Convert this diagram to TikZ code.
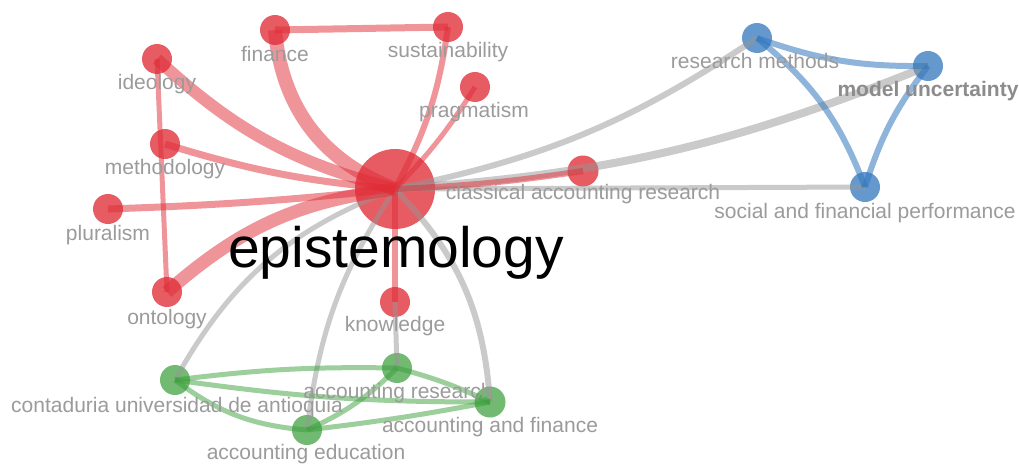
\documentclass[tikz,border=0pt]{standalone}
\usepackage{fontspec}
\setmainfont{Liberation Sans}
\definecolor{vred}{RGB}{225,45,55}
\definecolor{vgreen}{RGB}{60,160,60}
\definecolor{vblue}{RGB}{50,120,190}
\definecolor{vgray}{RGB}{150,150,150}
\definecolor{labgray}{RGB}{155,155,155}
\newcommand{\labfont}{\fontsize{21}{24}\selectfont}
\begin{document}
\begin{tikzpicture}[x=1pt,y=-1pt,
  dot/.style={circle, inner sep=0pt, minimum size=#1},
  rdot/.style={dot=#1, fill=vred, fill opacity=0.78},
  gdot/.style={dot=#1, fill=vgreen, fill opacity=0.72},
  bdot/.style={dot=#1, fill=vblue, fill opacity=0.75},
  redge/.style={draw=vred, draw opacity=0.5, line width=#1},
  gredge/.style={draw=vgray, draw opacity=0.5, line width=#1},
  grnedge/.style={draw=vgreen, draw opacity=0.5, line width=#1},
  bedge/.style={draw=vblue, draw opacity=0.55, line width=#1},
  lab/.style={anchor=base, text=labgray, font=\labfont, inner sep=0pt},
]
\useasboundingbox (0,0) rectangle (1019,463);
\fill[white] (0,0) rectangle (1019,463);

% nodes (circles)
\node[rdot=80] (epi) at (395,189) {};
\node[rdot=30] (fin) at (275,30) {};
\node[rdot=30] (sust) at (448,27) {};
\node[rdot=30] (ideo) at (157,59) {};
\node[rdot=30] (prag) at (475,87) {};
\node[rdot=30] (meth) at (165,144) {};
\node[rdot=30] (plur) at (108,209) {};
\node[rdot=30] (onto) at (167,292) {};
\node[rdot=30] (know) at (395,302) {};
\node[rdot=31] (class) at (583,171) {};
\node[bdot=30] (resm) at (757,38) {};
\node[bdot=30] (model) at (928,66) {};
\node[bdot=30] (social) at (865,187) {};
\node[gdot=30] (cont) at (175,380) {};
\node[gdot=30] (accres) at (397,368) {};
\node[gdot=30] (acced) at (307,430) {};
\node[gdot=31] (accfin) at (490,402) {};

% gray edges
\draw[gredge=6] (epi.center) to[bend right=11] (resm.center);
\draw[gredge=8] (epi.center) to[bend right=9] (model.center);
\draw[gredge=5] (epi.center) -- (social.center);
\draw[gredge=5] (epi.center) to[bend right=20] (cont.center);
\draw[gredge=5] (epi.center) to[bend right=13] (acced.center);
\draw[gredge=6] (epi.center) to[bend left=20] (accfin.center);
\draw[gredge=5] (know.center) -- (accres.center);

% red edges
\draw[redge=14] (epi.center) to[bend left=32] (fin.center);
\draw[redge=12] (epi.center) to[bend left=14] (ideo.center);
\draw[redge=7] (epi.center) to[bend left=6] (meth.center);
\draw[redge=7] (epi.center) to[bend left=2] (plur.center);
\draw[redge=13] (epi.center) to[bend right=17] (onto.center);
\draw[redge=6] (epi.center) to[bend right=10] (sust.center);
\draw[redge=5] (epi.center) to[bend right=6] (prag.center);
\draw[redge=6] (epi.center) -- (know.center);
\draw[redge=6] (epi.center) to[bend right=3] (class.center);
\draw[redge=7] (fin.center) -- (sust.center);
\draw[redge=5] (ideo.center) -- (onto.center);

% green edges
\draw[grnedge=5] (cont.center) to[bend left=4] (accres.center);
\draw[grnedge=5] (cont.center) to[bend right=4] (accfin.center);
\draw[grnedge=5] (cont.center) to[bend right=16] (acced.center);
\draw[grnedge=5] (acced.center) to[bend right=10] (accres.center);
\draw[grnedge=5] (acced.center) to[bend right=2] (accfin.center);
\draw[grnedge=5] (accres.center) to[bend left=5] (accfin.center);

% blue edges
\draw[bedge=6] (resm.center) to[bend right=10] (model.center);
\draw[bedge=6] (resm.center) to[bend left=15] (social.center);
\draw[bedge=6] (model.center) to[bend right=10] (social.center);

% labels
\node[lab] (lfin) at (275,61) {finance};
\node[lab] (lsust) at (448,57) {sustainability};
\node[lab] (lideo) at (157,89) {ideology};
\node[lab] (lprag) at (474,117) {pragmatism};
\node[lab] (lmeth) at (165,174) {methodology};
\node[lab] (lplur) at (108,240) {pluralism};
\node[lab] (lonto) at (167,324) {ontology};
\node[lab] (lknow) at (395,331) {knowledge};
\node[lab] (lclass) at (583,199) {classical accounting research};
\node[lab] (lresm) at (755,68) {research methods};
\node[lab, font=\labfont\bfseries, text={rgb,255:red,140;green,140;blue,140}] (lmodel) at (928,96) {model uncertainty};
\node[lab] (lsocial) at (865,218) {social and financial performance};
\node[lab] (lcont) at (177,412) {contaduria universidad de antioquia};
\node[lab] (laccres) at (398,398) {accounting research};
\node[lab] (laccfin) at (490,432) {accounting and finance};
\node[lab] (lacced) at (306,459) {accounting education};
\node[anchor=base, inner sep=0pt, font=\fontsize{57}{60}\selectfont, text=black] (lepi) at (396,267) {epistemology};
\end{tikzpicture}
\end{document}
